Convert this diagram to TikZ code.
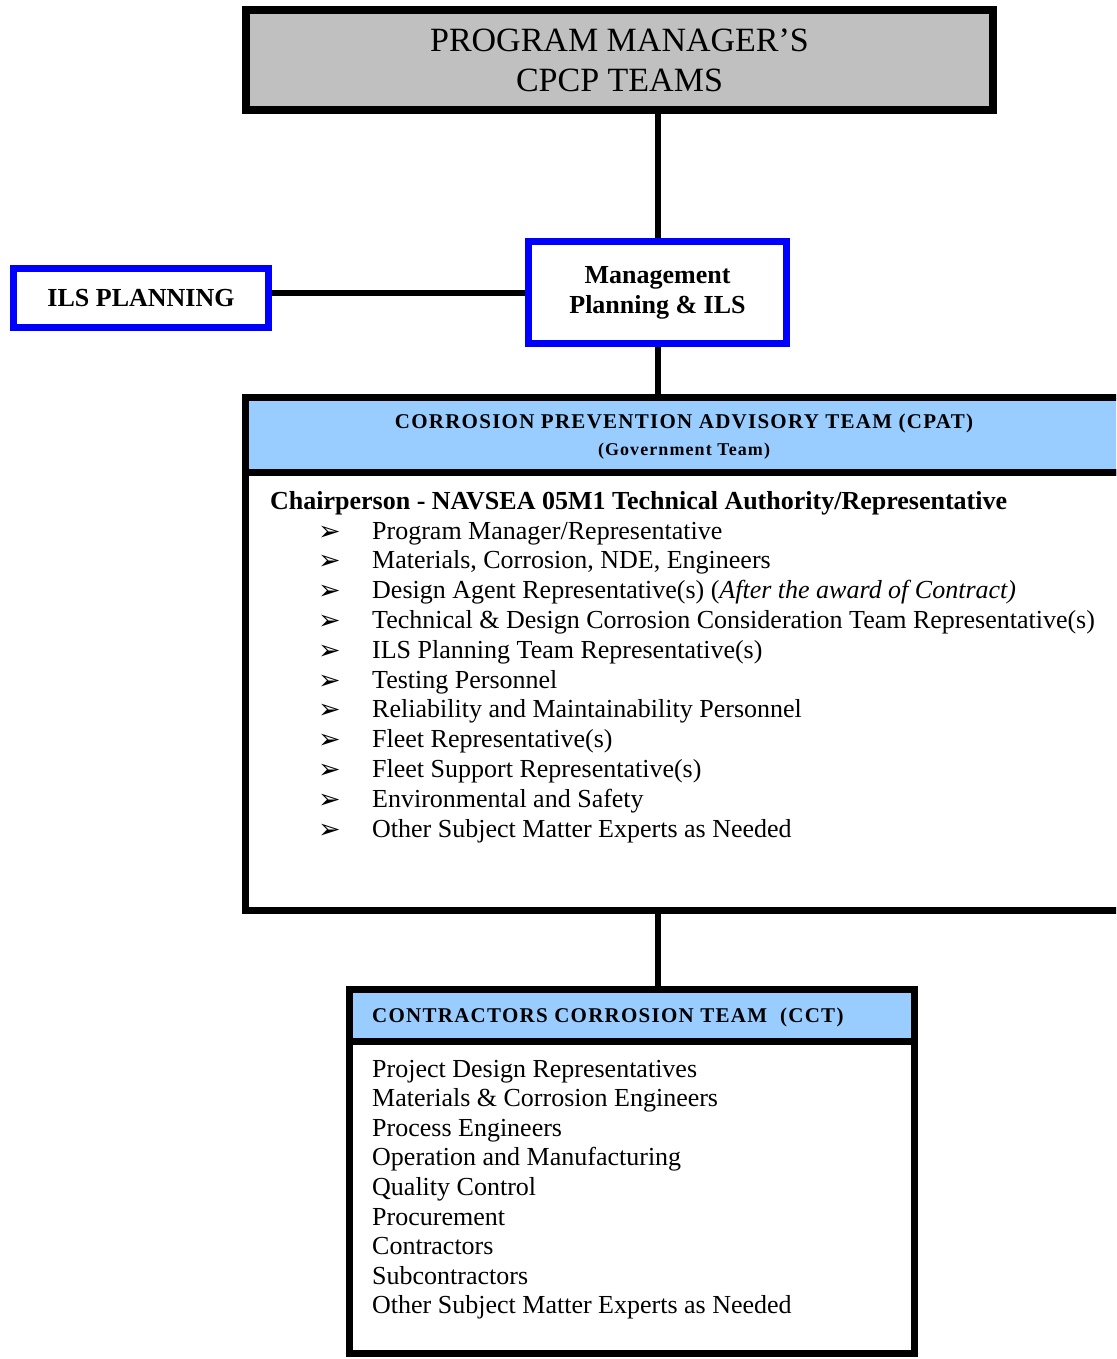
\documentclass[tikz,border=0pt]{standalone}
\usepackage{fontspec}
\setmainfont{Liberation Serif}
\newfontfamily\hdfont[LetterSpace=6]{Liberation Serif}
\newfontfamily\symfont{DejaVu Sans}
\usetikzlibrary{positioning}
\definecolor{boxgray}{HTML}{C0C0C0}
\definecolor{boxblue}{HTML}{0000FF}
\definecolor{hdblue}{HTML}{99CCFF}
\tikzset{
	blackbox/.style={draw=black, line width=7pt, inner sep=0pt, outer sep=0pt},
	bluebox/.style={draw=boxblue, line width=7pt, inner sep=0pt, outer sep=3.5pt, align=center, font=\fontsize{26}{30}\selectfont\bfseries},
	link/.style={line width=6pt},
	item/.style={anchor=base west, inner sep=0pt, font=\fontsize{26}{30}\selectfont},
	bullet/.style={anchor=base west, inner sep=0pt, font=\symfont\fontsize{27}{30}\selectfont},
	hdtext/.style={inner sep=0pt, font=\hdfont\fontsize{21}{27}\selectfont\bfseries}
}
\begin{document}
\begin{tikzpicture}[x=1pt, y=-1pt]
		\useasboundingbox (0,0) rectangle (1116,1359);
		\clip (0,0) rectangle (1116,1359);
		\node[blackbox, line width=8pt, fill=boxgray, minimum width=747pt, minimum height=100pt, align=center, font=\fontsize{34}{40}\selectfont] (pm) at (619.5,60) {PROGRAM MANAGER’S\\CPCP TEAMS};
		\node[bluebox, minimum width=258pt, minimum height=102pt] (mgmt) at (657.5,292.5) {Management\\Planning \& ILS};
		\node[bluebox, minimum width=255pt, minimum height=59pt] (ils) at (141,298) {ILS PLANNING};
		\draw[link] (mgmt.north) -- (mgmt.north |- pm.south);
		\draw[link] (ils.east |- mgmt.west) -- (mgmt.west);
		\node[blackbox, fill=hdblue, minimum width=877pt, minimum height=75pt] (cpathd) at (684,435) {};
		\node[blackbox, minimum width=877pt, minimum height=438pt, below=0pt of cpathd] (cpat) {};
		\draw[link] (mgmt.south) -- (mgmt.south |- cpathd.north);
		\node[hdtext, align=center] (cpatttl) at ([yshift=-2pt]cpathd.center) {CORROSION PREVENTION ADVISORY TEAM (CPAT)\\{\fontsize{18}{27}\selectfont(Government Team)}};
		\node[item, font=\fontsize{26}{30}\selectfont\bfseries] (chair) at (270,509) {Chairperson - NAVSEA 05M1 Technical Authority/Representative};
		\foreach \txt [count=\i from 0] in {Program Manager/Representative, {Materials, Corrosion, NDE, Engineers}, Design Agent Representative(s) (\textit{After the award of Contract)}, Technical \& Design Corrosion Consideration Team Representative(s), ILS Planning Team Representative(s), Testing Personnel, Reliability and Maintainability Personnel, Fleet Representative(s), Fleet Support Representative(s), Environmental and Safety, Other Subject Matter Experts as Needed}
		{
			\node[bullet] (b\i) at (318,540+29.8*\i) {➢};
			\node[item] (cpat\i) at (372,539+29.8*\i) {\txt};
		}
		\node[blackbox, fill=hdblue, minimum width=565pt, minimum height=51.5pt] (ccthd) at (632,1015.25) {};
		\node[blackbox, minimum width=565pt, minimum height=312.5pt, below=0pt of ccthd] (cct) {};
		\draw[link] (cpat.south -| mgmt.south) -- (ccthd.north -| mgmt.south);
		\node[hdtext, anchor=west] (ccttl) at (372,1017) {CONTRACTORS CORROSION TEAM\ \ (CCT)};
		\foreach \txt [count=\i from 0] in {Project Design Representatives, Materials \& Corrosion Engineers, Process Engineers, Operation and Manufacturing, Quality Control, Procurement, Contractors, Subcontractors, Other Subject Matter Experts as Needed}
		{
			\node[item] (cct\i) at (372,1077+29.6*\i) {\txt};
		}
\end{tikzpicture}
\end{document}
